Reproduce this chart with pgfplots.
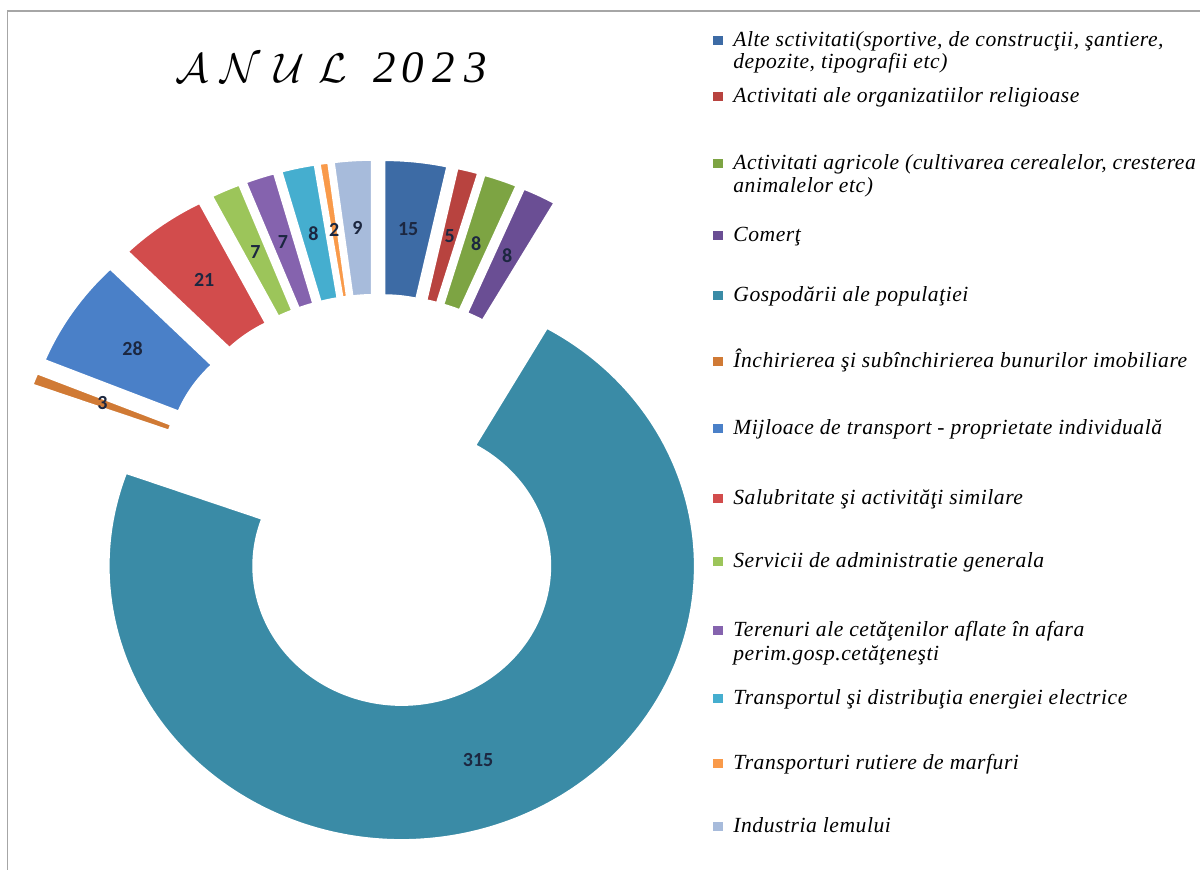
\documentclass[border=0pt]{standalone}
\usepackage{fontspec}
\setmainfont{Liberation Serif}
\newfontfamily\labfont{Carlito}
\newfontfamily\legf[LetterSpace=2.5]{Liberation Serif}
\usepackage{pgfplots}
\usepackage{pgfplotstable}
\pgfplotsset{compat=1.18}

\definecolor{c1}{HTML}{3D6BA5}
\definecolor{c2}{HTML}{B8433F}
\definecolor{c3}{HTML}{7DA443}
\definecolor{c4}{HTML}{6A4E94}
\definecolor{c5}{HTML}{3A8BA6}
\definecolor{c6}{HTML}{D07A35}
\definecolor{c7}{HTML}{4A80C8}
\definecolor{c8}{HTML}{D24C4C}
\definecolor{c9}{HTML}{9CC55A}
\definecolor{c10}{HTML}{8563AE}
\definecolor{c11}{HTML}{45AECF}
\definecolor{c12}{HTML}{F99A4A}
\definecolor{c13}{HTML}{A7BBDB}
\definecolor{labc}{HTML}{1C2740}
\definecolor{framec}{HTML}{A6A6A6}

% value of each slice, clockwise from 12 o'clock
\pgfplotstableread{
value col
15  c1
5   c2
8   c3
8   c4
315 c5
3   c6
28  c7
21  c8
7   c9
7   c10
8   c11
2   c12
9   c13
}\slices

\newcommand\CX{376.5}
\newcommand\CY{368}
\newcommand\RXo{293}
\newcommand\RYo{274}
\newcommand\RXi{148.5}
\newcommand\RYi{139}
\newcommand\EXPL{73}
\newcommand\KSQ{0.934}

\newcommand\legfont{\legf\itshape\fontsize{10.8}{12}\selectfont}
\newcommand\lgkey[2]{\node[anchor=base west, inner sep=0pt] at (axis cs:713,#1) {\textcolor{#2}{\rule[1pt]{5pt}{4.5pt}}};}
\newcommand\lgtxt[2]{\node[anchor=base west, inner sep=0pt, font=\legfont] at (axis cs:733,#1) {#2};}

\begin{document}
\begin{tikzpicture}
\begin{axis}[x=0.5pt, y=0.5pt, xmin=0, xmax=1200, ymin=0, ymax=870,
  hide axis, clip=false]
\coordinate (SW) at (axis cs:0,0);
\coordinate (NE) at (axis cs:1200,870);
\draw[framec, line width=0.6pt] (axis cs:7.5,0) -- (axis cs:7.5,859) -- (axis cs:1200,859);

\pgfplotsextra{
  \xdef\tot{0}
  \foreach \i in {0,...,12}{
    \pgfplotstablegetelem{\i}{value}\of\slices
    \pgfmathsetmacro\tmp{\tot+\pgfplotsretval}
    \xdef\tot{\tmp}
  }
  \xdef\cum{0}
  \pgfmathsetmacro\rxo{0.5*\RXo}
  \pgfmathsetmacro\ryo{0.5*\RYo}
  \pgfmathsetmacro\rxi{0.5*\RXi}
  \pgfmathsetmacro\ryi{0.5*\RYi}
  \foreach \i in {0,...,12}{
    \pgfplotstablegetelem{\i}{value}\of\slices \edef\val{\pgfplotsretval}
    \pgfplotstablegetelem{\i}{col}\of\slices \edef\col{\pgfplotsretval}
    \pgfmathsetmacro\ta{\cum/\tot*360}
    \pgfmathsetmacro\tb{(\cum+\val)/\tot*360}
    \pgfmathsetmacro\tm{(\ta+\tb)/2}
    \pgfmathsetmacro\sx{\CX+\EXPL*sin(\tm)}
    \pgfmathsetmacro\sy{\CY+\KSQ*\EXPL*cos(\tm)}
    \pgfmathsetmacro\ax{\sx+\RXo*sin(\ta)}
    \pgfmathsetmacro\ay{\sy+\RYo*cos(\ta)}
    \pgfmathsetmacro\bx{\sx+\RXi*sin(\tb)}
    \pgfmathsetmacro\by{\sy+\RYi*cos(\tb)}
    \pgfmathsetmacro\lx{\sx+0.5*(\RXo+\RXi)*sin(\tm)}
    \pgfmathsetmacro\ly{\sy+0.5*(\RYo+\RYi)*cos(\tm)}
    \pgfmathsetmacro\pa{90-\ta}
    \pgfmathsetmacro\pb{90-\tb}
    \fill[fill=\col, draw=white, line width=0.9pt, line join=round]
      (axis cs:\ax,\ay) arc[start angle=\pa, end angle=\pb, x radius=\rxo pt, y radius=\ryo pt]
      -- (axis cs:\bx,\by) arc[start angle=\pb, end angle=\pa, x radius=\rxi pt, y radius=\ryi pt]
      -- cycle;
    \node[font=\labfont\bfseries\fontsize{10}{11}\selectfont, text=labc, inner sep=0pt]
      at (axis cs:\lx,\ly) {\val};
    \pgfmathsetmacro\nc{\cum+\val}
    \xdef\cum{\nc}
  }
}

% title
\node[anchor=base, inner sep=0pt] at (axis cs:331.5,787)
  {\fontsize{22.5}{27}\selectfont\itshape
   $\mathcal{A}$\hspace{6pt}$\mathcal{N}$\hspace{7pt}$\mathcal{U}$\hspace{7pt}$\mathcal{L}$\hspace{13pt}2\hspace{3pt}0\hspace{4pt}2\hspace{5pt}3};

% legend (baselines, image y measured from top: 870 - y)
\lgkey{823}{c1}\lgtxt{823}{Alte sctivitati(sportive, de construcţii, şantiere,}
\lgtxt{801}{depozite, tipografii etc)}
\lgkey{767}{c2}\lgtxt{767}{Activitati ale organizatiilor religioase}
\lgkey{700}{c3}\lgtxt{700}{Activitati agricole (cultivarea cerealelor, cresterea}
\lgtxt{677}{animalelor etc)}
\lgkey{628}{c4}\lgtxt{628}{Comerţ}
\lgkey{568}{c5}\lgtxt{568}{Gospodării ale populaţiei}
\lgkey{502}{c6}\lgtxt{502}{Închirierea şi subînchirierea bunurilor imobiliare}
\lgkey{435}{c7}\lgtxt{435}{Mijloace de transport - proprietate individuală}
\lgkey{365}{c8}\lgtxt{365}{Salubritate şi activităţi similare}
\lgkey{302}{c9}\lgtxt{302}{Servicii de administratie generala}
\lgkey{233}{c10}\lgtxt{233}{Terenuri ale cetăţenilor aflate în afara}
\lgtxt{209}{perim.gosp.cetăţeneşti}
\lgkey{165}{c11}\lgtxt{165}{Transportul şi distribuţia energiei electrice}
\lgkey{100}{c12}\lgtxt{100}{Transporturi rutiere de marfuri}
\lgkey{37}{c13}\lgtxt{37}{Industria lemului}
\end{axis}
\pgfresetboundingbox
\useasboundingbox (SW) rectangle (NE);
\end{tikzpicture}
\end{document}
